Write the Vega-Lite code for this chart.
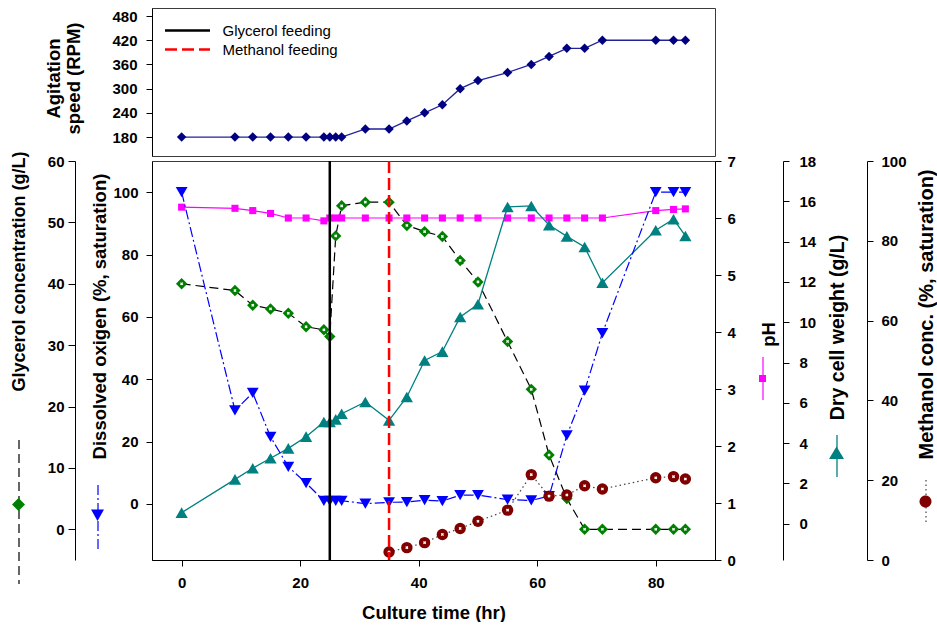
{
  "$schema": "https://vega.github.io/schema/vega-lite/v6.json",
  "background": "white",
  "padding": {"left": 9, "top": 7, "right": 0, "bottom": 0},
  "bounds": "flush",
  "spacing": 5,
  "datasets": {
    "agit": [
      {"t": 0, "v": 180}, {"t": 9, "v": 180}, {"t": 12, "v": 180}, {"t": 15, "v": 180}, {"t": 18, "v": 180},
      {"t": 21, "v": 180}, {"t": 24, "v": 180}, {"t": 25, "v": 180}, {"t": 26, "v": 180}, {"t": 27, "v": 180},
      {"t": 31, "v": 200}, {"t": 35, "v": 200}, {"t": 38, "v": 220}, {"t": 41, "v": 240}, {"t": 44, "v": 260},
      {"t": 47, "v": 300}, {"t": 50, "v": 320}, {"t": 55, "v": 340}, {"t": 59, "v": 360}, {"t": 62, "v": 380},
      {"t": 65, "v": 400}, {"t": 68, "v": 400}, {"t": 71, "v": 420}, {"t": 80, "v": 420}, {"t": 83, "v": 420},
      {"t": 85, "v": 420}
    ],
    "gly": [
      {"t": 0, "v": 40}, {"t": 9, "v": 38.9}, {"t": 12, "v": 36.5}, {"t": 15, "v": 35.9}, {"t": 18, "v": 35.2},
      {"t": 21, "v": 33.0}, {"t": 24, "v": 32.5}, {"t": 25, "v": 31.4}, {"t": 26, "v": 47.8}, {"t": 27, "v": 52.7},
      {"t": 31, "v": 53.3}, {"t": 35, "v": 53.3}, {"t": 38, "v": 49.5}, {"t": 41, "v": 48.5}, {"t": 44, "v": 47.7},
      {"t": 47, "v": 43.8}, {"t": 50, "v": 40.3}, {"t": 55, "v": 30.6}, {"t": 59, "v": 22.8}, {"t": 62, "v": 12.1},
      {"t": 65, "v": 5}, {"t": 68, "v": 0}, {"t": 71, "v": 0}, {"t": 80, "v": 0}, {"t": 83, "v": 0}, {"t": 85, "v": 0}
    ],
    "do": [
      {"t": 0, "v": 100}, {"t": 9, "v": 30}, {"t": 12, "v": 35.6}, {"t": 15, "v": 21.5}, {"t": 18, "v": 11.9},
      {"t": 21, "v": 6.7}, {"t": 24, "v": 1}, {"t": 25, "v": 1}, {"t": 26, "v": 1}, {"t": 27, "v": 1},
      {"t": 31, "v": 0.1}, {"t": 35, "v": 0.5}, {"t": 38, "v": 0.6}, {"t": 41, "v": 1.2}, {"t": 44, "v": 0.9},
      {"t": 47, "v": 2.8}, {"t": 50, "v": 2.8}, {"t": 55, "v": 1.4}, {"t": 59, "v": 1.1}, {"t": 62, "v": 2.5},
      {"t": 65, "v": 22}, {"t": 68, "v": 36.3}, {"t": 71, "v": 54.8}, {"t": 80, "v": 100}, {"t": 83, "v": 100},
      {"t": 85, "v": 100}
    ],
    "ph": [
      {"t": 0, "v": 6.19}, {"t": 9, "v": 6.17}, {"t": 12, "v": 6.13}, {"t": 15, "v": 6.08}, {"t": 18, "v": 6.0},
      {"t": 21, "v": 6.0}, {"t": 24, "v": 5.95}, {"t": 25, "v": 6.0}, {"t": 26, "v": 6.0}, {"t": 27, "v": 6.0},
      {"t": 31, "v": 6.0}, {"t": 35, "v": 6.0}, {"t": 38, "v": 6.0}, {"t": 41, "v": 6.0}, {"t": 44, "v": 6.0},
      {"t": 47, "v": 6.0}, {"t": 50, "v": 6.0}, {"t": 55, "v": 6.0}, {"t": 59, "v": 6.0}, {"t": 62, "v": 6.0},
      {"t": 65, "v": 6.0}, {"t": 68, "v": 6.0}, {"t": 71, "v": 6.0}, {"t": 80, "v": 6.13}, {"t": 83, "v": 6.15},
      {"t": 85, "v": 6.16}
    ],
    "dcw": [
      {"t": 0, "v": 0.55}, {"t": 9, "v": 2.2}, {"t": 12, "v": 2.75}, {"t": 15, "v": 3.25}, {"t": 18, "v": 3.74},
      {"t": 21, "v": 4.32}, {"t": 24, "v": 5.05}, {"t": 25, "v": 5.05}, {"t": 26, "v": 5.18}, {"t": 27, "v": 5.46},
      {"t": 31, "v": 6.04}, {"t": 35, "v": 5.13}, {"t": 38, "v": 6.29}, {"t": 41, "v": 8.1}, {"t": 44, "v": 8.54},
      {"t": 47, "v": 10.26}, {"t": 50, "v": 10.89}, {"t": 55, "v": 15.72}, {"t": 59, "v": 15.77}, {"t": 62, "v": 14.82},
      {"t": 65, "v": 14.26}, {"t": 68, "v": 13.73}, {"t": 71, "v": 11.96}, {"t": 80, "v": 14.56}, {"t": 83, "v": 15.11},
      {"t": 85, "v": 14.28}
    ],
    "meoh": [
      {"t": 35, "v": 2.0}, {"t": 38, "v": 3.1}, {"t": 41, "v": 4.35}, {"t": 44, "v": 6.4}, {"t": 47, "v": 7.9},
      {"t": 50, "v": 9.7}, {"t": 55, "v": 12.5}, {"t": 59, "v": 21.4}, {"t": 62, "v": 16.0}, {"t": 65, "v": 16.3},
      {"t": 68, "v": 18.6}, {"t": 71, "v": 17.8}, {"t": 80, "v": 20.6}, {"t": 83, "v": 20.9}, {"t": 85, "v": 20.3}
    ],
    "feed": [
      {"t": 25, "event": "Glycerol feeding"},
      {"t": 35, "event": "Methanol feeding"}
    ]
  },
  "vconcat": [
    {
      "width": 563,
      "height": 148,
      "data": {"name": "agit"},
      "encoding": {
        "x": {"field": "t", "type": "quantitative", "scale": {"domain": [-5, 90]}, "axis": null},
        "y": {
          "field": "v", "type": "quantitative", "scale": {"domain": [133, 500]},
          "axis": {
            "values": [180, 240, 300, 360, 420, 480],
            "title": ["Agitation", "speed (RPM)"],
            "labelPadding": 9,
            "titleX": -98.5, "titleY": 70, "titleAngle": 270,
            "titleAlign": "center", "titleBaseline": "middle", "titleLineHeight": 20
          }
        }
      },
      "layer": [
        {"mark": {"type": "line", "color": "#22229a", "strokeWidth": 1.3}},
        {"mark": {"type": "point", "shape": "diamond", "filled": true, "color": "#000080", "size": 90, "opacity": 1}}
      ]
    },
    {
      "width": 563,
      "height": 399,
      "encoding": {
        "x": {
          "field": "t", "type": "quantitative", "scale": {"domain": [-5, 90]},
          "axis": {"values": [0, 20, 40, 60, 80], "title": "Culture time (hr)", "labelPadding": 9, "titleY": 52, "titleBaseline": "middle"}
        }
      },
      "layer": [
        {
          "data": {"name": "gly"},
          "mark": {"type": "line", "color": "#000000", "strokeWidth": 1.2, "strokeDash": [9, 5]},
          "encoding": {
            "y": {"field": "v", "type": "quantitative", "scale": {"domain": [-5, 60]}, "axis": null},
            "opacity": {"datum": "g", "type": "ordinal", "scale": {"domain": ["g"], "range": [1]},
              "legend": {"orient": "none", "legendX": -135, "legendY": 349, "title": null, "padding": 0,
                "symbolType": "M0,-72L0,72", "symbolSize": 4, "symbolStrokeColor": "#000000", "symbolFillColor": "transparent",
                "symbolStrokeWidth": 1.2, "symbolDash": [9, 5], "labelExpr": "''", "labelFontSize": 1, "labelOffset": 0}}
          }
        },
        {
          "data": {"name": "gly"},
          "mark": {"type": "point", "shape": "diamond", "filled": true, "color": "#008000", "size": 130, "opacity": 1},
          "encoding": {
            "y": {"field": "v", "type": "quantitative", "scale": {"domain": [-5, 60]},
              "axis": {"orient": "left", "offset": 77, "values": [0, 10, 20, 30, 40, 50, 60], "tickSize": 7, "labelPadding": 4,
                "title": "Glycerol concentration (g/L)", "titleX": -56, "titleY": 110, "titleAngle": 270, "titleFontSize": 18,
                "titleAlign": "center", "titleBaseline": "middle"}},
            "opacity": {"datum": "g", "type": "ordinal", "scale": {"domain": ["g"], "range": [1]},
              "legend": {"orient": "none", "legendX": -135, "legendY": 342, "title": null, "padding": 0,
                "symbolType": "M0,-6.5L6.5,0L0,6.5L-6.5,0Z", "symbolSize": 4, "symbolStrokeColor": "#008000", "symbolFillColor": "#008000",
                "symbolStrokeWidth": 0.5, "labelExpr": "''", "labelFontSize": 1, "labelOffset": 0}}
          }
        },
        {
          "data": {"name": "gly"},
          "mark": {"type": "point", "shape": "cross", "filled": true, "color": "#ffffff", "size": 10, "angle": 45, "opacity": 1},
          "encoding": {
            "y": {"field": "v", "type": "quantitative", "scale": {"domain": [-5, 60]}, "axis": null}
          }
        },
        {
          "data": {"name": "ph"},
          "mark": {"type": "line", "color": "#ff00ff", "strokeWidth": 1.2},
          "encoding": {
            "y": {"field": "v", "type": "quantitative", "scale": {"domain": [0, 7]}, "axis": null},
            "opacity": {"datum": "p", "type": "ordinal", "scale": {"domain": ["p"], "range": [1]},
              "legend": {"orient": "none", "legendX": 609, "legendY": 215.5, "title": null, "padding": 0,
                "symbolType": "M0,-21.5L0,21.5", "symbolSize": 4, "symbolStrokeColor": "#ff00ff", "symbolFillColor": "transparent",
                "symbolStrokeWidth": 1.2, "labelExpr": "''", "labelFontSize": 1, "labelOffset": 0}}
          }
        },
        {
          "data": {"name": "ph"},
          "mark": {"type": "point", "shape": "square", "filled": true, "color": "#ff00ff", "size": 50, "opacity": 1},
          "encoding": {
            "y": {"field": "v", "type": "quantitative", "scale": {"domain": [0, 7]},
              "axis": {"orient": "right", "offset": 0, "values": [0, 1, 2, 3, 4, 5, 6, 7], "labelPadding": 6,
                "title": "pH", "titleX": 53, "titleY": 173, "titleAngle": 270,
                "titleAlign": "center", "titleBaseline": "middle"}},
            "opacity": {"datum": "p", "type": "ordinal", "scale": {"domain": ["p"], "range": [1]},
              "legend": {"orient": "none", "legendX": 609, "legendY": 216, "title": null, "padding": 0,
                "symbolType": "M-3.5,-3.5L3.5,-3.5L3.5,3.5L-3.5,3.5Z", "symbolSize": 4, "symbolStrokeColor": "#ff00ff", "symbolFillColor": "#ff00ff",
                "symbolStrokeWidth": 0.5, "labelExpr": "''", "labelFontSize": 1, "labelOffset": 0}}
          }
        },
        {
          "data": {"name": "dcw"},
          "mark": {"type": "line", "color": "#008080", "strokeWidth": 1.3},
          "encoding": {
            "y": {"field": "v", "type": "quantitative", "scale": {"domain": [-1.8, 18]}, "axis": null},
            "opacity": {"datum": "c", "type": "ordinal", "scale": {"domain": ["c"], "range": [1]},
              "legend": {"orient": "none", "legendX": 683, "legendY": 293, "title": null, "padding": 0,
                "symbolType": "M0,-21L0,21", "symbolSize": 4, "symbolStrokeColor": "#008080", "symbolFillColor": "transparent",
                "symbolStrokeWidth": 1.3, "labelExpr": "''", "labelFontSize": 1, "labelOffset": 0}}
          }
        },
        {
          "data": {"name": "dcw"},
          "mark": {"type": "point", "shape": "triangle-up", "filled": true, "color": "#008080", "size": 150, "opacity": 1},
          "encoding": {
            "y": {"field": "v", "type": "quantitative", "scale": {"domain": [-1.8, 18]},
              "axis": {"orient": "right", "offset": 68, "values": [0, 2, 4, 6, 8, 10, 12, 14, 16, 18], "labelPadding": 10,
                "title": "Dry cell weight (g/L)", "titleX": 54.5, "titleY": 166, "titleAngle": 270, "titleFontSize": 19.5,
                "titleAlign": "center", "titleBaseline": "middle"}},
            "opacity": {"datum": "c", "type": "ordinal", "scale": {"domain": ["c"], "range": [1]},
              "legend": {"orient": "none", "legendX": 683, "legendY": 291, "title": null, "padding": 0,
                "symbolType": "M0,-7L7.5,5.5L-7.5,5.5Z", "symbolSize": 4, "symbolStrokeColor": "#008080", "symbolFillColor": "#008080",
                "symbolStrokeWidth": 0.5, "labelExpr": "''", "labelFontSize": 1, "labelOffset": 0}}
          }
        },
        {
          "data": {"name": "do"},
          "mark": {"type": "line", "color": "#0000ff", "strokeWidth": 1.2, "strokeDash": [10, 3, 2, 3]},
          "encoding": {
            "y": {"field": "v", "type": "quantitative", "scale": {"domain": [-18, 110]}, "axis": null},
            "opacity": {"datum": "d", "type": "ordinal", "scale": {"domain": ["d"], "range": [1]},
              "legend": {"orient": "none", "legendX": -56, "legendY": 354, "title": null, "padding": 0,
                "symbolType": "M0,-32L0,32", "symbolSize": 4, "symbolStrokeColor": "#0000ff", "symbolFillColor": "transparent",
                "symbolStrokeWidth": 1.2, "symbolDash": [10, 3, 2, 3], "labelExpr": "''", "labelFontSize": 1, "labelOffset": 0}}
          }
        },
        {
          "data": {"name": "do"},
          "mark": {"type": "point", "shape": "triangle-down", "filled": true, "color": "#0000ff", "size": 140, "opacity": 1},
          "encoding": {
            "y": {"field": "v", "type": "quantitative", "scale": {"domain": [-18, 110]},
              "axis": {"orient": "left", "offset": 0, "values": [0, 20, 40, 60, 80, 100], "labelPadding": 8,
                "title": "Dissolved oxigen (%, saturation)", "titleX": -53, "titleY": 155, "titleAngle": 270,
                "titleAlign": "center", "titleBaseline": "middle"}},
            "opacity": {"datum": "d", "type": "ordinal", "scale": {"domain": ["d"], "range": [1]},
              "legend": {"orient": "none", "legendX": -56, "legendY": 352, "title": null, "padding": 0,
                "symbolType": "M-6.5,-5L6.5,-5L0,6.5Z", "symbolSize": 4, "symbolStrokeColor": "#0000ff", "symbolFillColor": "#0000ff",
                "symbolStrokeWidth": 0.5, "labelExpr": "''", "labelFontSize": 1, "labelOffset": 0}}
          }
        },
        {
          "data": {"name": "meoh"},
          "mark": {"type": "line", "color": "#444444", "strokeWidth": 1.2, "strokeDash": [1.5, 3]},
          "encoding": {
            "y": {"field": "v", "type": "quantitative", "scale": {"domain": [0, 100]}, "axis": null},
            "opacity": {"datum": "m", "type": "ordinal", "scale": {"domain": ["m"], "range": [1]},
              "legend": {"orient": "none", "legendX": 772, "legendY": 339.5, "title": null, "padding": 0,
                "symbolType": "M0,-22.5L0,22.5", "symbolSize": 4, "symbolStrokeColor": "#444444", "symbolFillColor": "transparent",
                "symbolStrokeWidth": 1.2, "symbolDash": [1.5, 3], "labelExpr": "''", "labelFontSize": 1, "labelOffset": 0}}
          }
        },
        {
          "data": {"name": "meoh"},
          "mark": {"type": "point", "shape": "circle", "filled": true, "color": "#800000", "size": 130, "opacity": 1},
          "encoding": {
            "y": {"field": "v", "type": "quantitative", "scale": {"domain": [0, 100]},
              "axis": {"orient": "right", "offset": 152, "values": [0, 20, 40, 60, 80, 100], "labelPadding": 8,
                "title": "Methanol conc. (%, saturation)", "titleX": 59.5, "titleY": 153, "titleAngle": 270, "titleFontSize": 20,
                "titleAlign": "center", "titleBaseline": "middle"}},
            "opacity": {"datum": "m", "type": "ordinal", "scale": {"domain": ["m"], "range": [1]},
              "legend": {"orient": "none", "legendX": 772, "legendY": 339, "title": null, "padding": 0,
                "symbolType": "M-6,0A6,6 0 1,0 6,0A6,6 0 1,0 -6,0Z", "symbolSize": 4, "symbolStrokeColor": "#800000", "symbolFillColor": "#800000",
                "symbolStrokeWidth": 0.5, "labelExpr": "''", "labelFontSize": 1, "labelOffset": 0}}
          }
        },
        {
          "data": {"name": "meoh"},
          "mark": {"type": "point", "shape": "cross", "filled": true, "color": "#ffffff", "size": 10, "angle": 45, "opacity": 1},
          "encoding": {
            "y": {"field": "v", "type": "quantitative", "scale": {"domain": [0, 100]}, "axis": null}
          }
        },
        {
          "data": {"name": "feed"},
          "mark": {"type": "rule", "strokeWidth": 2.5},
          "encoding": {
            "color": {"field": "event", "type": "nominal",
              "scale": {"domain": ["Glycerol feeding", "Methanol feeding"], "range": ["#000000", "#ff0000"]},
              "legend": {"orient": "none", "legendX": 26.5, "legendY": 13.5, "title": null, "padding": 0,
                "symbolType": "M-3,0L3,0", "symbolSize": 225, "symbolStrokeWidth": 2.5, "labelFontSize": 15,
                "labelOffset": 26, "rowPadding": 2}},
            "strokeDash": {"field": "event", "type": "nominal",
              "scale": {"domain": ["Glycerol feeding", "Methanol feeding"], "range": [[1, 0], [12, 5]]},
              "legend": {"orient": "none", "legendX": 26.5, "legendY": 13.5, "title": null, "padding": 0,
                "symbolType": "M-3,0L3,0", "symbolSize": 225, "symbolStrokeWidth": 2.5, "labelFontSize": 15,
                "labelOffset": 26, "rowPadding": 2}}
          }
        }
      ],
      "resolve": {
        "scale": {"y": "independent", "opacity": "independent"},
        "legend": {"opacity": "independent"}
      }
    }
  ],
  "config": {
    "view": {"stroke": "#3a3a3a", "strokeWidth": 1},
    "axis": {
      "labelFont": "Liberation Sans", "labelFontWeight": "bold", "labelFontSize": 15, "labelColor": "#000000",
      "titleFont": "Liberation Sans", "titleFontWeight": "bold", "titleFontSize": 18.5, "titleColor": "#000000",
      "domainColor": "#000000", "tickColor": "#000000", "tickSize": 6, "grid": false, "labelPadding": 5
    },
    "legend": {"labelFont": "Liberation Sans", "labelColor": "#000000"}
  }
}
